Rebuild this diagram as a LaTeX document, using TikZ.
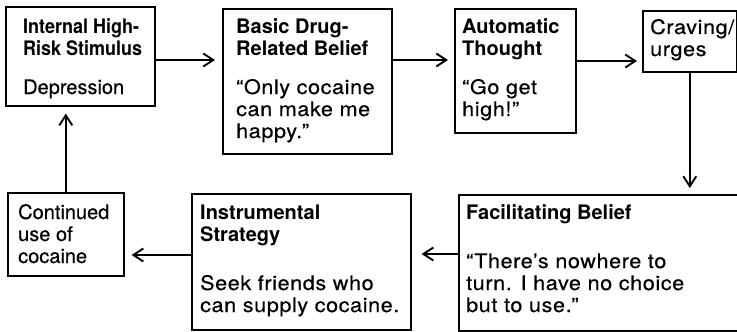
\documentclass[tikz,border=0pt]{standalone}
\usepackage{fontspec}
\setmainfont{TeX Gyre Heros}[FakeBold=0.4]
\newfontfamily\widefam{TeX Gyre Heros}[FakeStretch=1.08,LetterSpace=3,FakeBold=0.4]
\newfontfamily\narrowfam{TeX Gyre Heros}[FakeStretch=0.9]
\newfontfamily\headfam{TeX Gyre Heros}
\usetikzlibrary{arrows.meta}
\begin{document}
\begin{tikzpicture}[x=1pt,y=-1pt,
  box/.style={draw, line width=1.6pt, inner sep=0pt, anchor=north west},
  txt/.style={anchor=base west, inner sep=0pt, font=\fontsize{20}{22}\selectfont},
  hd/.style={txt, font=\headfam\fontsize{20}{22}\selectfont\bfseries},
  hdn/.style={txt, font=\narrowfam\fontsize{20}{22}\selectfont\bfseries},
  wd/.style={txt, font=\widefam\fontsize{20}{22}\selectfont},
  conn/.style={-{Straight Barb[length=10pt,width=13pt]}, line width=1.9pt}]
\useasboundingbox (0,0) rectangle (737,332);
% boxes
\node[box, minimum width=149pt, minimum height=99pt] (b1) at (5,6) {};
\node[box, minimum width=169pt, minimum height=145pt] (b2) at (222,8) {};
\node[box, minimum width=121pt, minimum height=124pt] (b3) at (454,8) {};
\node[box, minimum width=94pt, minimum height=61pt] (b4) at (642,10) {};
\node[box, minimum width=282pt, minimum height=136pt] (b5) at (458,194) {};
\node[box, minimum width=219pt, minimum height=136pt] (b6) at (191,193) {};
\node[box, minimum width=116pt, minimum height=83pt] (b7) at (7,192) {};
% texts
\node[hdn] (t1a) at (23,34) {Internal High-};
\node[hdn] (t1b) at (23,56) {Risk Stimulus};
\node[txt] (t1c) at (23,94) {Depression};
\node[hd] (t2a) at (236,34) {Basic Drug-};
\node[hd] (t2b) at (236,56) {Related Belief};
\node[wd] (t2c) at (236,94) {“Only cocaine};
\node[wd] (t2d) at (236,116) {can make me};
\node[wd] (t2e) at (236,138) {happy.”};
\node[hd] (t3a) at (462,34) {Automatic};
\node[hd] (t3b) at (462,56) {Thought};
\node[wd] (t3c) at (462,94) {“Go get};
\node[wd] (t3d) at (462,116) {high!”};
\node[wd] (t4a) at (650,34) {Craving/};
\node[wd] (t4b) at (650,56) {urges};
\node[hd] (t5a) at (466,219) {Facilitating Belief};
\node[wd] (t5b) at (466,268) {“There’s nowhere to};
\node[wd] (t5c) at (466,290) {turn. I have no choice};
\node[wd] (t5d) at (466,312) {but to use.”};
\node[hd] (t6a) at (200,219) {Instrumental};
\node[hd] (t6b) at (200,241) {Strategy};
\node[wd] (t6c) at (200,290) {Seek friends who};
\node[wd] (t6d) at (200,312) {can supply cocaine.};
\node[txt] (t7a) at (18,219) {Continued};
\node[txt] (t7b) at (18,241) {use of};
\node[txt] (t7c) at (18,263) {cocaine};
% connectors
\draw[conn, shorten >=7pt] (b1.east |- 0,60) -- (b2.west |- 0,60);
\draw[conn, shorten >=6pt] (b2.east |- 0,60) -- (b3.west |- 0,60);
\draw[conn, shorten >=5pt] (b3.east |- 0,61) -- (b4.west |- 0,61);
\draw[conn, shorten >=6pt] (b4.south) -- (b5.north -| b4.south);
\draw[conn, shorten >=10pt] (b5.west |- 0,254) -- (b6.east |- 0,254);
\draw[conn, shorten >=7pt] (b6.west |- 0,255) -- (b7.east |- 0,255);
\draw[conn, shorten >=7pt] (b7.north) -- (b1.south -| b7.north);
\end{tikzpicture}
\end{document}
